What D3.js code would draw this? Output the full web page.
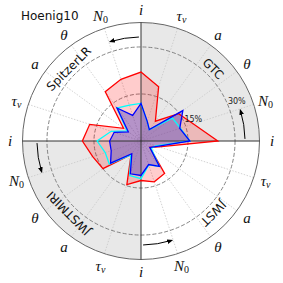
<!DOCTYPE html>
<html>
<head>
<meta charset="utf-8">
<script src="https://cdn.jsdelivr.net/npm/d3@7"></script>
<style>
body { margin: 0; background: #fff; }
</style>
</head>
<body>
<div id="chart-area"></div>
<script>
// Spoke parameters, repeated in each quadrant (clockwise from the quadrant start)
var spokeParams = ["i", "tau", "a", "theta", "N0"];
// Quadrant instruments, clockwise from top-right
var instruments = ["GTC", "JWST", "JWSTMIRI", "SpitzerLR"];
var shadedQuadrants = [true, false, true, false];
var ringValues = [15, 30];

// Relative error (%) at each of the 20 spokes, clockwise from the top i
var valsRed  = [22, 18.2, 7.8, 14.8, 17.6, 24.5, 6, 3.5, 12.8, 13.7,
                12.6, 14.6, 5.4, 15, 16.2, 18.7, 17.2, 6.9, 19.4, 20.7];
var valsCyan = [12, 6.5, 4.5, 12.4, 13.2, 15.6, 5, 4, 10, 8,
                12, 11.6, 5.5, 12.5, 12, 14, 10, 5.5, 13, 12];
var valsBlue = [12, 6.5, 4.5, 16.5, 13, 15.6, 5.5, 3.5, 10, 7.9,
                11, 11, 5, 12, 10, 10, 9, 5, 13, 8.6];

var width = 283, height = 283;
var cx = 141, cy = 141;
var rMax = 118.5;

var svg = d3.select("#chart-area")
    .append("svg")
        .attr("width", width)
        .attr("height", height);

var g = svg.append("g")
    .attr("transform", "translate(" + cx + "," + cy + ")");

// Scales
var r = d3.scaleLinear()
    .domain([0, 37.8])
    .range([0, rMax]);

var nSpokes = valsRed.length;
var angle = d3.scaleLinear()
    .domain([0, nSpokes])
    .range([0, 2 * Math.PI]);

function polar(a, rr) {
    return [rr * Math.sin(a), -rr * Math.cos(a)];
}

// Arrowhead
svg.append("defs").append("marker")
    .attr("id", "arrowhead")
    .attr("viewBox", "0 0 10 10")
    .attr("refX", 7)
    .attr("refY", 5)
    .attr("markerWidth", 6)
    .attr("markerHeight", 6)
    .attr("orient", "auto")
  .append("path")
    .attr("d", "M0,1 L10,5 L0,9 z")
    .attr("fill", "#000");

// Shaded quadrants
var quadArc = d3.arc()
    .innerRadius(0)
    .outerRadius(rMax);

instruments.forEach(function(name, k) {
    if (shadedQuadrants[k]) {
        g.append("path")
            .attr("d", quadArc({ startAngle: k * Math.PI / 2, endAngle: (k + 1) * Math.PI / 2 }))
            .attr("fill", "#e8e8e8");
    }
});

// Dotted spokes
d3.range(nSpokes).forEach(function(i) {
    if (i % 5 === 0) return;
    var p = polar(angle(i), rMax);
    g.append("line")
        .attr("x1", 0).attr("y1", 0)
        .attr("x2", p[0]).attr("y2", p[1])
        .attr("stroke", "#c8c8c8")
        .attr("stroke-width", 0.8)
        .attr("stroke-dasharray", "1.5,1.5");
});

// Rings
ringValues.forEach(function(v) {
    g.append("circle")
        .attr("r", r(v))
        .attr("fill", "none")
        .attr("stroke", "#777")
        .attr("stroke-width", 0.9)
        .attr("stroke-dasharray", "4,2");
});
g.append("circle")
    .attr("r", rMax)
    .attr("fill", "none")
    .attr("stroke", "#666")
    .attr("stroke-width", 1);

// Series
var radial = d3.lineRadial()
    .angle(function(d, i) { return angle(i); })
    .radius(function(d) { return r(d); })
    .curve(d3.curveLinearClosed);

g.append("path")
    .attr("d", radial(valsRed))
    .attr("fill", "rgba(255,0,0,0.2)")
    .attr("stroke", "none");

g.append("path")
    .attr("d", radial(valsBlue))
    .attr("fill", "rgba(30,30,190,0.33)")
    .attr("stroke", "none");

// Main axes through the i spokes
[0, 5].forEach(function(i) {
    var p = polar(angle(i), rMax);
    g.append("line")
        .attr("x1", -p[0]).attr("y1", -p[1])
        .attr("x2", p[0]).attr("y2", p[1])
        .attr("stroke", "#333")
        .attr("stroke-width", 1);
});

g.append("path")
    .attr("d", radial(valsRed))
    .attr("fill", "none")
    .attr("stroke", "red")
    .attr("stroke-width", 1.3);

g.append("path")
    .attr("d", radial(valsCyan))
    .attr("fill", "none")
    .attr("stroke", "#00ffff")
    .attr("stroke-width", 1.3);

g.append("path")
    .attr("d", radial(valsBlue))
    .attr("fill", "none")
    .attr("stroke", "blue")
    .attr("stroke-width", 1.3);

// Ring labels
ringValues.forEach(function(v) {
    var p = polar(angle(3.75), r(v));
    g.append("text")
        .attr("x", p[0])
        .attr("y", p[1] - 1)
        .attr("font-family", "DejaVu Sans")
        .attr("font-size", "8px")
        .attr("fill", "#222")
        .text(v + "%");
});

// Curved arrows, one per quadrant (counterclockwise)
var arrowR = 104;
instruments.forEach(function(name, k) {
    var a0 = angle((k + 1) * 5) - 0.02;
    var a1 = angle((k + 1) * 5) - 17 * Math.PI / 180;
    var p0 = polar(a0, arrowR), p1 = polar(a1, arrowR);
    g.append("path")
        .attr("d", "M" + p0[0] + "," + p0[1] + " A" + arrowR + "," + arrowR + " 0 0 0 " + p1[0] + "," + p1[1])
        .attr("fill", "none")
        .attr("stroke", "#000")
        .attr("stroke-width", 1)
        .attr("marker-end", "url(#arrowhead)");
});

// Instrument labels
instruments.forEach(function(name, k) {
    var deg = 45 + 90 * k;
    var p = polar(deg * Math.PI / 180, 102);
    g.append("text")
        .attr("transform", "translate(" + p[0] + "," + p[1] + ") rotate(" + deg + ")")
        .attr("text-anchor", "middle")
        .attr("dominant-baseline", "central")
        .attr("font-family", "DejaVu Sans")
        .attr("font-size", "12px")
        .attr("fill", "#111")
        .text(name);
});

// Spoke labels
d3.range(nSpokes).forEach(function(i) {
    var p = polar(angle(i), 131);
    var key = spokeParams[i % 5];
    var t = g.append("text")
        .attr("x", p[0])
        .attr("y", p[1])
        .attr("text-anchor", "middle")
        .attr("dominant-baseline", "central")
        .attr("font-family", "Liberation Serif")
        .attr("font-style", "italic")
        .attr("font-size", "15px")
        .attr("fill", "#111");
    if (key === "N0") {
        t.append("tspan").text("N");
        t.append("tspan").attr("dy", 3).attr("font-size", "10px").attr("font-style", "normal").text("0");
    } else if (key === "tau") {
        t.append("tspan").text("τ");
        t.append("tspan").attr("dy", 3).attr("font-size", "10px").text("ν");
    } else if (key === "theta") {
        t.text("θ");
    } else {
        t.text(key);
    }
});

// Title
svg.append("text")
    .attr("x", 21)
    .attr("y", 20)
    .attr("font-family", "DejaVu Sans")
    .attr("font-size", "12px")
    .attr("fill", "#111")
    .text("Hoenig10");
</script>
</body>
</html>
